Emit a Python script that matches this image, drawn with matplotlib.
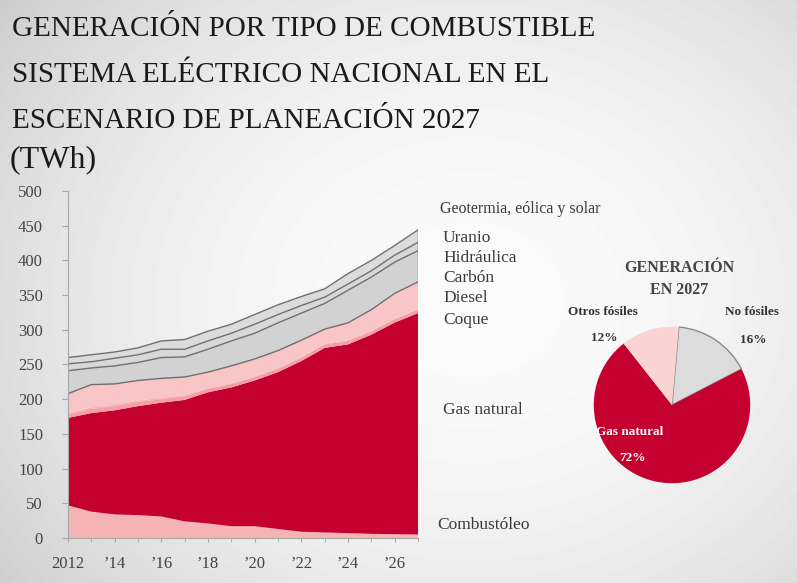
import matplotlib.pyplot as plt
import numpy as np

plt.rcParams['font.family'] = ['Liberation Serif', 'DejaVu Serif']

# generation by fuel type, TWh
years = np.arange(2012, 2028)
combustoleo = [47, 38, 34, 33, 31, 24, 21, 17, 17, 13, 9, 8, 7, 6, 5.5, 5]
gas_natural = [126, 142, 150, 157, 164, 175, 189, 200, 210, 226, 246, 266, 272, 287, 305, 319]
coque = [5, 6, 6, 6, 5, 5, 5, 5, 5, 5, 5, 5, 5, 5, 5, 5]
diesel = [2, 2, 2, 2, 2, 2, 1, 1, 1, 1, 1, 1, 1, 1, 1, 1]
carbon = [28, 33, 30, 29, 28, 26, 23, 25, 25, 25, 24, 21, 25, 30, 36, 39]
hidraulica = [33, 24, 26, 26, 30, 29, 33, 36, 37, 40, 39, 37, 47, 47, 45, 45]
uranio = [10, 9, 11, 11, 12, 11, 12, 11, 13, 12, 11, 9, 9, 9, 10, 12]
geotermia = [9, 10, 9, 10, 12, 14, 14, 13, 14, 14, 13, 12, 15, 15, 14, 18]

series_labels = ['Combustóleo', 'Gas natural', 'Coque', 'Diesel', 'Carbón',
                 'Hidráulica', 'Uranio', 'Geotermia, eólica y solar']

xtick_years = [2012, 2014, 2016, 2018, 2020, 2022, 2024, 2026]
xtick_labels = ['2012', '\u201914', '\u201916', '\u201918', '\u201920', '\u201922', '\u201924', '\u201926']

pie_labels = ['No fósiles', 'Gas natural', 'Otros fósiles']
pie_values = [16, 72, 12]

red = '#c4002f'
colors = ['#f6b3b6', red, '#f59ea6', '#f7b0b4', '#f9c6c7', '#d2d2d2', '#d8d8d8', '#dcdcdc']

fig = plt.figure(figsize=(7.97, 5.83), dpi=100)

# soft grey slide background
bg = fig.add_axes([0, 0, 1, 1], zorder=-10)
yy, xx = np.mgrid[0:583, 0:797]
d = np.sqrt(((xx - 470) / 520.0) ** 2 + ((yy - 300) / 430.0) ** 2)
shade = 0.985 - 0.14 * np.clip(d, 0, 1.3) ** 2
bg.imshow(shade, cmap='gray', vmin=0, vmax=1, extent=[0, 1, 0, 1], aspect='auto')
bg.set_xlim(0, 1)
bg.set_ylim(0, 1)
bg.axis('off')

# titles
title_lines = ['GENERACIÓN POR TIPO DE COMBUSTIBLE',
               'SISTEMA ELÉCTRICO NACIONAL EN EL',
               'ESCENARIO DE PLANEACIÓN 2027']
for i, line in enumerate(title_lines):
    fig.text(12 / 797, 1 - (29 + i * 46) / 583, line, fontsize=21, color='#1a1a1a',
             va='center', ha='left')
fig.text(10 / 797, 1 - 160 / 583, '(TWh)', fontsize=23, color='#1a1a1a', va='center', ha='left')

# stacked area
ax = fig.add_axes([68 / 797, 1 - 538 / 583, 350 / 797, 347 / 583])
ax.set_facecolor('none')
ax.stackplot(years, combustoleo, gas_natural, coque, diesel, carbon, hidraulica, uranio, geotermia,
             colors=colors, linewidth=0)
cum = np.cumsum(np.array([combustoleo, gas_natural, coque, diesel, carbon,
                          hidraulica, uranio, geotermia]), axis=0)
for k in [4, 5, 6, 7]:
    ax.plot(years, cum[k], color='#707070', lw=1.0)
ax.plot([years[-1], years[-1]], [cum[4][-1], cum[7][-1]], color='#707070', lw=1.0)

ax.set_xlim(2012, 2027)
ax.set_ylim(0, 500)
ax.set_yticks(np.arange(0, 501, 50))
ax.set_xticks(xtick_years)
ax.set_xticklabels(xtick_labels)
ax.set_xticks(years, minor=True)
for s in ['top', 'right']:
    ax.spines[s].set_visible(False)
for s in ['left', 'bottom']:
    ax.spines[s].set_color('#a8a8a8')
ax.tick_params(axis='y', length=4, color='#a8a8a8', labelsize=12, labelcolor='#444444', pad=14)
ax.tick_params(axis='x', which='both', length=3, color='#a8a8a8', labelsize=12,
               labelcolor='#444444', pad=10)

# series labels on the right
label_pos = [(437, 525, 12.5), (443, 410, 12.5), (443, 320, 12.5), (443, 298, 12.5),
             (443, 278, 12.5), (443, 258, 12.5), (443, 238, 12.5), (440, 209, 11.5)]
for name, (px, py, fs) in zip(series_labels, label_pos):
    fig.text(px / 797, 1 - py / 583, name, fontsize=fs, color='#3a3a3a', va='center', ha='left')

# pie for 2027
pax = fig.add_axes([593 / 797, 1 - 484 / 583, 158 / 797, 158 / 583])
wedges, _ = pax.pie(pie_values, colors=['#dcdcdc', red, '#fbd3d3'], startangle=85,
                    counterclock=False,
                    wedgeprops=dict(edgecolor='none'))
wedges[0].set_edgecolor('#8a8a8a')
wedges[0].set_linewidth(1.0)
pax.set_xlim(-1.01, 1.01)
pax.set_ylim(-1.01, 1.01)
pax.set_aspect('equal')

fig.text(679 / 797, 1 - 268 / 583, 'GENERACIÓN', fontsize=11.5, color='#444444',
         fontweight='bold', ha='center', va='center')
fig.text(679 / 797, 1 - 290 / 583, 'EN 2027', fontsize=11.5, color='#444444',
         fontweight='bold', ha='center', va='center')
fig.text(603 / 797, 1 - 312 / 583, pie_labels[2], fontsize=9.5, fontweight='bold',
         color='#333333', ha='center', va='center')
fig.text(604 / 797, 1 - 338 / 583, '%d%%' % pie_values[2], fontsize=9.5, fontweight='bold',
         color='#333333', ha='center', va='center')
fig.text(752 / 797, 1 - 312 / 583, pie_labels[0], fontsize=9.5, fontweight='bold',
         color='#333333', ha='center', va='center')
fig.text(753 / 797, 1 - 340 / 583, '%d%%' % pie_values[0], fontsize=9.5, fontweight='bold',
         color='#333333', ha='center', va='center')
fig.text(630 / 797, 1 - 432 / 583, pie_labels[1], fontsize=9.5, fontweight='bold',
         color='white', ha='center', va='center')
fig.text(632 / 797, 1 - 458 / 583, '%d%%' % pie_values[1], fontsize=9.5, fontweight='bold',
         color='white', ha='center', va='center')

fig.savefig('out.png', dpi=100)
